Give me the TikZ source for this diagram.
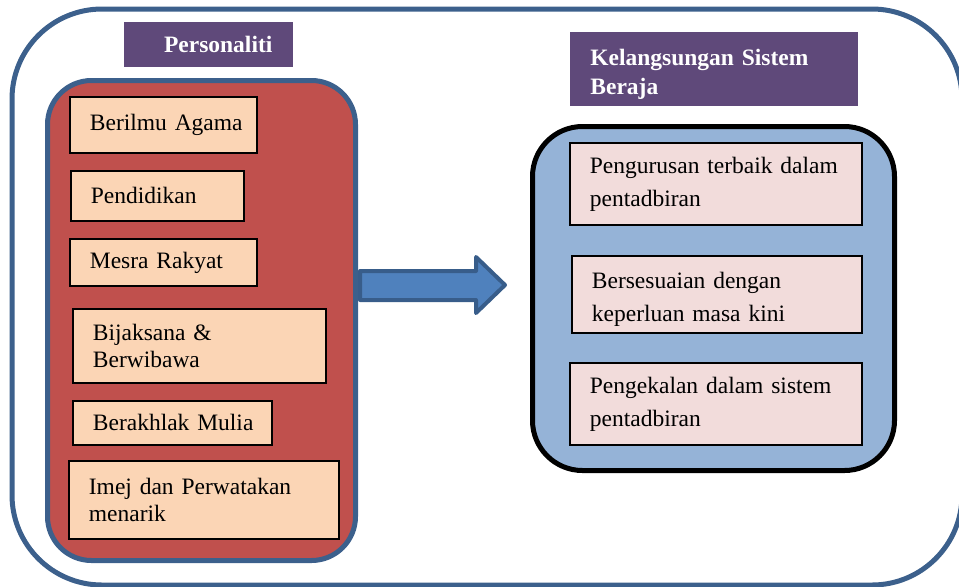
\documentclass[tikz,border=0pt]{standalone}
\usepackage{fontspec}
\setmainfont{Liberation Serif}
\usepackage{tikz}
\usetikzlibrary{positioning}
\definecolor{bingkai}{RGB}{60,96,140}
\definecolor{ungu}{RGB}{95,73,122}
\definecolor{merah}{RGB}{192,80,77}
\definecolor{pic}{RGB}{251,213,181}
\definecolor{biru}{RGB}{149,179,215}
\definecolor{merahjambu}{RGB}{242,220,219}
\definecolor{anakpanah}{RGB}{79,129,189}
\definecolor{tepianak}{RGB}{56,93,138}

\begin{document}
\begin{tikzpicture}[x=0.5pt,y=-0.5pt,
    panel/.style={draw, line width=2.5pt, anchor=north west},
    tajuk/.style={fill=ungu, text=white, anchor=north west,
      font=\fontsize{11.75}{14.5}\selectfont\bfseries},
    kotak/.style={draw=black, line width=0.9pt, anchor=north west, inner xsep=10pt,
      align=left, text width=#1, font=\fontsize{11.75}{13.75}\selectfont,
      execute at begin node={\rightskip=-10pt plus 1fil}},
    kiri/.style={kotak=#1, fill=pic},
    kanan/.style={kotak=#1, fill=merahjambu, font=\fontsize{11.75}{16.5}\selectfont}]
    \useasboundingbox (0,0) rectangle (959,586);

    % Bingkai luar
    \draw[bingkai, line width=2.5pt, rounded corners=45pt] (12,9) rectangle (962,585);

    % Kotak kiri: Personaliti
    \node[panel, draw=bingkai, fill=merah, rounded corners=22pt,
      minimum width=154pt, minimum height=240pt] (personaliti) at (45,78) {};
    \node[tajuk, minimum width=84.5pt, minimum height=22.5pt, inner xsep=10.5pt,
      text width=63.5pt, align=right] (tajukkiri) at (124,22) {Personaliti};

    \node[kiri=73.5pt, minimum height=28pt] (agama) at (69,96) {Berilmu Agama};
    \node[kiri=66.5pt, minimum height=25pt] (didik) at (70,170) {Pendidikan};
    \node[kiri=73.5pt, minimum height=23.5pt] (rakyat) at (69,238) {Mesra Rakyat};
    \node[kiri=106.5pt, minimum height=37pt] (bijak) at (72,308) {Bijaksana \&\\Berwibawa};
    \node[kiri=79.5pt, minimum height=22pt] (akhlak) at (72,400) {Berakhlak Mulia};
    \node[kiri=115pt, minimum height=39pt] (imej) at (68,460) {Imej dan Perwatakan\\menarik};

    % Anak panah
    \draw[fill=anakpanah, draw=tepianak, line width=2pt, line join=round]
      (360,271) -- (476,271) -- (476,257) -- (505,285) -- (476,313)
      -- (476,300) -- (360,300) -- cycle;

    % Kotak kanan: Sistem Beraja
    \node[panel, draw=black, fill=biru, rounded corners=25pt,
      minimum width=181pt, minimum height=172pt] (beraja) at (530,124) {};
    \node[tajuk, minimum width=144pt, minimum height=37pt, inner xsep=10pt,
      text width=124pt, align=left, text height=13pt] (tajukkanan) at (570,32)
      {Kelangsungan Sistem\\Beraja};

    \node[kanan=126pt, minimum height=41pt] (urus) at (569,142) {Pengurusan terbaik dalam\\pentadbiran};
    \node[kanan=125pt, minimum height=37.5pt, text height=13pt] (sesuai) at (571,255)
      {Bersesuaian dengan\\keperluan masa kini};
    \node[kanan=126pt, minimum height=41pt] (kekal) at (569,362) {Pengekalan dalam sistem\\pentadbiran};
\end{tikzpicture}
\end{document}
